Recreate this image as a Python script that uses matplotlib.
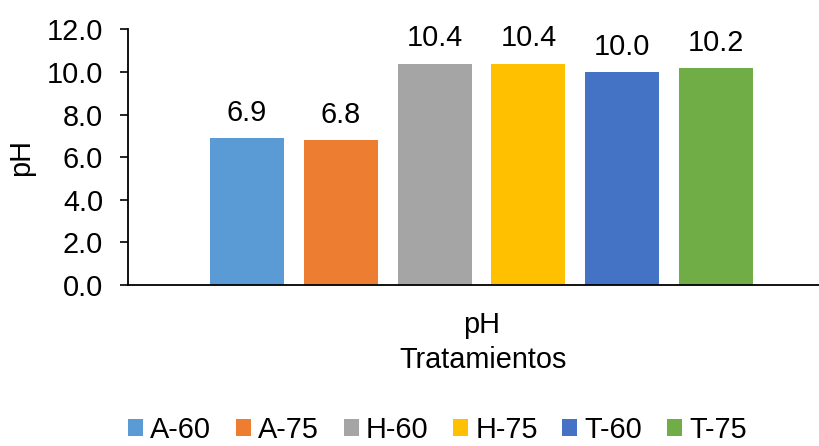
import matplotlib.pyplot as plt
import numpy as np

plt.rcParams['font.family'] = ['Liberation Sans', 'DejaVu Sans']

treatments = ['A-60', 'A-75', 'H-60', 'H-75', 'T-60', 'T-75']
ph_values = [6.9, 6.8, 10.4, 10.4, 10.0, 10.2]
colors = ['#5B9BD5', '#ED7D31', '#A5A5A5', '#FFC000', '#4472C4', '#70AD47']
category = 'pH'

fs = 20.8
fig = plt.figure(figsize=(8.19, 4.46), dpi=100)
ax = fig.add_axes([128 / 819, 161 / 446, (819 - 128) / 819, (285 - 29.5) / 446])

x = np.arange(len(treatments))
for i in range(len(treatments)):
    ax.bar(x[i], ph_values[i], width=0.79, color=colors[i], label=treatments[i])
    ax.annotate('%.1f' % ph_values[i], (x[i], ph_values[i]), xytext=(0, 8),
                textcoords='offset points', ha='center', va='bottom', fontsize=fs)

ax.set_xlim(-1.269, 6.098)
ax.set_ylim(0, 12)
ax.set_yticks(np.arange(0, 12.1, 2))
ax.set_yticklabels(['%.1f' % v for v in np.arange(0, 12.1, 2)], fontsize=fs)
ax.set_xticks([2.5])
ax.set_xticklabels([category], fontsize=fs)
ax.tick_params(axis='x', length=0, pad=19)
ax.tick_params(axis='y', length=6, width=1.2, pad=12)
ax.set_xlabel('Tratamientos', fontsize=fs)
ax.xaxis.set_label_coords((483 - 128) / (819 - 128), -(346 - 285) / (285 - 29.5))
ax.set_ylabel('pH', fontsize=fs, labelpad=8)

for s in ['top', 'right']:
    ax.spines[s].set_visible(False)
for s in ['left', 'bottom']:
    ax.spines[s].set_linewidth(1.3)

fig.legend(loc='center', bbox_to_anchor=(437.5 / 819, 16 / 446), ncol=6, frameon=False,
           fontsize=fs, handlelength=0.52, handleheight=0.52, handletextpad=0.25,
           columnspacing=0.85, borderpad=0.1)

fig.savefig('out.png', dpi=100)
